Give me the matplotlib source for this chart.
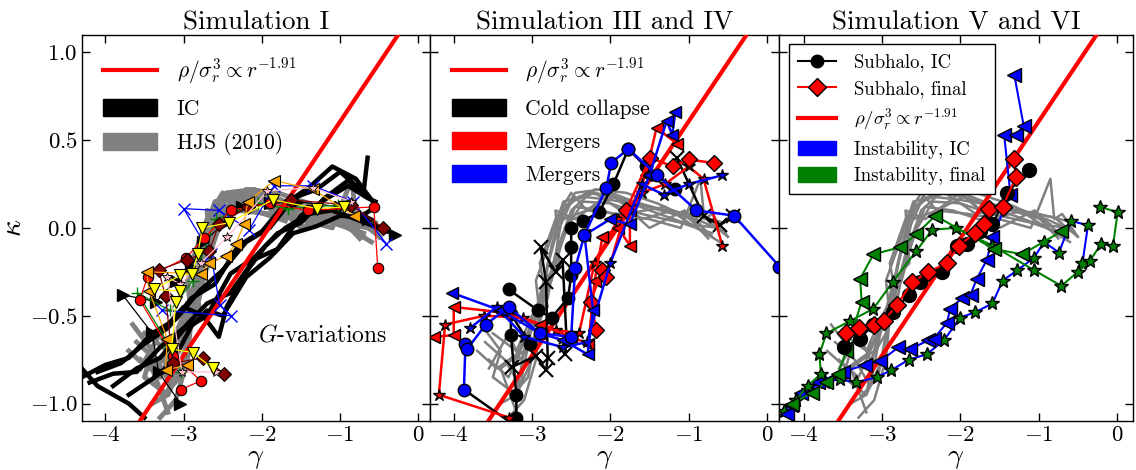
import matplotlib
matplotlib.use('Agg')
import matplotlib.pyplot as plt
from matplotlib.patches import Patch
from matplotlib.lines import Line2D
import numpy as np

plt.rcParams['font.family'] = ['cmr10', 'DejaVu Serif']
plt.rcParams['mathtext.fontset'] = 'cm'
plt.rcParams['axes.formatter.use_mathtext'] = True

# ---------------- data ----------------
PPSD_EXPONENT = 1.91  # rho/sigma_r^3 ~ r^-1.91  ->  kappa = 2/3 (gamma + 1.91)

# HJS (2010) grey bundle, shown in every panel
hjs_gamma = [
    [-3.55, -3.3, -3.05, -2.85, -2.75, -2.6, -2.3, -2.0, -1.6, -1.2, -0.9, -0.55],
    [-3.4, -3.2, -3.1, -2.9, -2.8, -2.65, -2.45, -2.1, -1.7, -1.3, -0.8, -0.5],
    [-3.6, -3.35, -3.15, -3.0, -2.85, -2.7, -2.5, -2.2, -1.9, -1.5, -1.0, -0.6],
    [-3.3, -3.1, -2.95, -2.9, -2.75, -2.55, -2.35, -2.0, -1.6, -1.1, -0.7],
    [-3.7, -3.45, -3.2, -3.0, -2.85, -2.7, -2.6, -2.4, -2.0, -1.5, -1.0, -0.55],
    [-3.25, -3.05, -2.95, -2.8, -2.7, -2.5, -2.2, -1.8, -1.4, -1.0, -0.75],
    [-2.6, -2.3, -1.9, -1.5, -1.1, -0.85, -0.8, -0.7, -0.5],
    [-3.5, -3.2, -3.0, -2.75, -2.6, -2.45, -2.1, -1.7],
    [-3.65, -3.4, -3.5, -3.2, -3.0, -2.9, -2.95, -2.75, -2.6, -2.2, -1.8, -1.3, -0.9, -0.6],
    [-3.2, -3.4, -3.1, -3.0, -2.8, -2.9, -2.7, -2.5, -2.3, -1.95, -1.6, -1.2, -0.85],
    [-3.55, -3.3, -3.15, -2.95, -2.85, -2.65, -2.7, -2.45, -2.0, -1.5, -1.05, -0.7],
]
hjs_kappa = [
    [-0.75, -0.85, -0.6, -0.35, -0.1, 0.12, 0.2, 0.18, 0.13, 0.08, 0.05, -0.02],
    [-1.0, -0.95, -0.7, -0.45, -0.2, 0.05, 0.2, 0.22, 0.15, 0.1, 0.06, -0.05],
    [-0.65, -0.75, -0.9, -0.55, -0.3, -0.05, 0.15, 0.2, 0.17, 0.1, 0.02, 0.0],
    [-1.08, -0.98, -0.75, -0.5, -0.25, 0.0, 0.15, 0.14, 0.08, 0.03, -0.03],
    [-0.7, -0.8, -0.72, -0.55, -0.4, -0.15, 0.1, 0.18, 0.16, 0.12, 0.08, 0.03],
    [-0.95, -0.85, -0.6, -0.4, -0.15, 0.1, 0.22, 0.2, 0.14, 0.06, -0.06],
    [0.05, 0.1, 0.08, 0.05, 0.0, 0.28, 0.05, 0.08, -0.05],
    [-0.6, -0.7, -0.5, -0.3, -0.05, 0.12, 0.1, 0.04],
    [-0.55, -0.7, -0.85, -0.95, -0.75, -0.5, -0.3, -0.05, 0.15, 0.2, 0.08, 0.12, 0.0, -0.08],
    [-1.05, -0.8, -0.7, -0.5, -0.45, -0.2, 0.05, 0.2, 0.1, 0.18, 0.05, 0.1, 0.02],
    [-0.8, -0.6, -0.75, -0.6, -0.3, -0.2, 0.1, 0.05, 0.2, 0.0, 0.1, -0.05],
]

# Simulation I: initial conditions (thick black)
ic_gamma = [
    [-4.3, -4.0, -3.7, -3.4, -3.1, -2.8, -2.5, -2.2, -1.9, -1.6, -1.3, -1.0, -0.7],
    [-4.1, -3.8, -3.5, -3.2, -2.9, -2.6, -2.3, -2.0, -1.7, -1.4, -1.1, -0.8, -0.6],
    [-4.2, -3.9, -3.6, -3.3, -3.0, -2.7, -2.4, -2.1, -1.8, -1.5, -1.2, -0.9, -0.65, -0.55],
    [-3.9, -3.6, -3.3, -3.0, -2.7, -2.4, -2.1, -1.8, -1.5, -1.2, -0.9, -0.7, -0.65],
    [-3.7, -3.4, -3.15, -2.9, -2.7, -2.5, -2.2, -1.9, -1.6, -1.3, -1.0, -0.75, -0.55],
    [-3.5, -3.2, -3.0, -2.75, -2.55, -2.45, -2.2, -1.95, -1.7, -1.4, -1.1, -0.8, -0.4],
    [-4.3, -4.1, -3.9, -3.7, -3.5],
]
ic_kappa = [
    [-0.85, -0.78, -0.74, -0.6, -0.52, -0.36, -0.24, -0.08, 0.0, 0.17, 0.22, 0.32, 0.2],
    [-0.82, -0.77, -0.66, -0.57, -0.4, -0.32, -0.1, -0.02, 0.14, 0.23, 0.35, 0.28, 0.16],
    [-0.88, -0.83, -0.82, -0.68, -0.57, -0.43, -0.37, -0.18, -0.12, 0.07, 0.16, 0.24, 0.17, 0.15],
    [-0.9, -0.8, -0.74, -0.58, -0.5, -0.26, -0.17, -0.03, 0.03, 0.17, 0.27, 0.21, 0.4],
    [-0.95, -0.86, -0.77, -0.56, -0.47, -0.5, -0.28, -0.17, -0.03, 0.01, 0.07, 0.06, 0.12],
    [-0.65, -0.55, -0.45, -0.5, -0.62, -0.45, -0.25, -0.1, 0.0, 0.08, 0.1, 0.05, -0.02],
    [-0.8, -0.9, -0.95, -1.0, -1.08],
]

# Simulation I: G-variations
gv_black_g = [-3.04, -3.32, -3.4, -3.78, -3.35, -3.1, -2.9, -2.75, -2.5, -2.25, -1.9, -1.55, -1.0, -0.65, -0.3]
gv_black_k = [-1.0, -0.82, -0.6, -0.38, -0.42, -0.3, -0.22, -0.08, 0.02, 0.12, 0.14, 0.15, 0.12, 0.05, -0.04]
gv_red_g = [-3.03, -2.78, -3.13, -3.56, -3.46, -2.97, -2.74, -2.4, -1.9, -1.41, -0.57, -0.52]
gv_red_k = [-0.92, -0.87, -0.73, -0.41, -0.28, -0.17, -0.06, 0.1, 0.14, 0.1, 0.12, -0.23]
gv_maroon_g = [-2.48, -2.75, -3.14, -3.23, -3.32, -2.95, -2.67, -2.55, -2.18, -1.63, -0.86, -0.45]
gv_maroon_k = [-0.83, -0.74, -0.77, -0.39, -0.24, -0.18, -0.13, 0.02, 0.12, 0.16, 0.13, 0.0]
gv_orange_g = [-2.95, -3.23, -3.21, -3.44, -3.47, -2.78, -2.67, -2.46, -2.33, -2.23, -2.18, -1.84, -1.35, -0.82]
gv_orange_k = [-0.78, -0.81, -0.63, -0.36, -0.25, -0.26, -0.2, -0.16, -0.09, 0.02, 0.15, 0.27, 0.22, 0.07]
gv_yellow_g = [-2.63, -2.88, -3.15, -3.10, -3.04, -3.38, -3.04, -2.89, -2.82, -2.76, -2.42, -1.86, -1.29, -0.95]
gv_yellow_k = [-0.8, -0.71, -0.69, -0.42, -0.36, -0.35, -0.27, -0.26, -0.15, 0.0, 0.03, 0.16, 0.11, 0.12]
gv_pink_g = [-2.59, -3.02, -3.21, -3.04, -2.78, -2.44, -1.93, -1.35, -0.86]
gv_pink_k = [-0.82, -0.82, -0.28, -0.32, -0.2, -0.05, 0.21, 0.23, 0.15]
gv_green_g = [-3.03, -3.18, -3.59, -3.17, -2.88, -2.59, -2.05, -1.67, -1.03]
gv_green_k = [-0.82, -0.67, -0.37, -0.47, -0.3, 0.05, 0.14, 0.11, 0.13]
gv_blue_g = [-3.27, -2.39, -2.54, -2.65, -3.0, -2.55, -2.16, -1.84, -1.35, -0.84, -0.41]
gv_blue_k = [-0.47, -0.5, -0.44, -0.15, 0.11, 0.1, -0.01, 0.24, 0.24, 0.15, -0.09]

# Simulation III and IV
cc_circ1_g = [-3.20, -3.20, -3.27, -3.27, -3.03]
cc_circ1_k = [-1.08, -0.95, -0.61, -0.49, -0.66]
cc_circ2_g = [-3.30, -2.92, -2.75, -2.54, -2.50, -2.50, -2.50, -2.35, -2.14, -1.96, -1.77, -1.55, -1.17]
cc_circ2_k = [-0.35, -0.47, -0.51, -0.40, -0.27, -0.11, 0.0, 0.04, 0.09, 0.25, 0.45, 0.35, 0.22]
cc_x1_g = [-3.25, -2.95, -2.82, -2.80, -2.82, -2.89, -2.70, -2.61, -2.56, -2.58]
cc_x1_k = [-0.79, -0.73, -0.81, -0.74, -0.31, -0.11, -0.25, -0.18, -0.62, -0.72]
cc_x2_g = [-3.87, -3.3, -3.25]
cc_x2_k = [-0.92, -1.1, -1.15]
cc_x3_g = [-1.15, -0.81, -0.60, -0.43]
cc_x3_k = [0.40, 0.07, 0.015, 0.07]
mr_star_g = [-3.29, -4.19, -4.11, -3.61, -3.12, -2.7, -2.4, -2.2, -1.9, -1.6, -1.3, -1.0, -0.81, -0.57]
mr_star_k = [-1.08, -0.95, -0.55, -0.50, -0.51, -0.58, -0.6, -0.2, 0.05, 0.2, 0.25, 0.35, 0.28, -0.10]
mr_tri_g = [-4.25, -4.0, -4.0, -3.4, -2.9, -2.5, -2.28, -2.2, -2.1, -1.9, -1.75, -1.75, -1.55, -1.41, -1.15]
mr_tri_k = [-0.62, -0.61, -0.45, -0.48, -0.55, -0.62, -0.66, -0.3, -0.05, 0.0, -0.10, 0.10, 0.3, 0.57, 0.48]
mr_dia_g = [-2.18, -2.25, -2.11, -2.05, -1.8, -1.49, -1.2, -1.0, -0.68]
mr_dia_k = [-0.58, -0.42, -0.24, -0.28, 0.1, 0.40, 0.35, 0.39, 0.37]
mb_tri_g = [-4.02, -3.40, -2.9, -2.6, -2.29, -2.22, -2.33, -2.0, -1.75, -1.5, -1.28, -1.21, -1.17]
mb_tri_k = [-0.37, -0.47, -0.6, -0.64, -0.72, -0.47, -0.04, 0.05, 0.02, 0.3, 0.61, 0.53, 0.66]
mb_circ_g = [-3.87, -3.85, -3.83, -3.59, -3.3, -2.9, -2.5, -2.45, -2.33, -2.05, -1.99, -1.77, -1.4, -0.9, -0.42, 0.16]
mb_circ_k = [-0.92, -0.66, -0.69, -0.55, -0.45, -0.6, -0.62, -0.23, -0.04, 0.23, 0.37, 0.45, 0.3, 0.1, 0.07, -0.22]
mb_star_g = [-3.79, -3.45, -3.1, -2.6, -2.3, -2.0, -1.6, -1.32, -1.0, -0.57]
mb_star_k = [-0.57, -0.45, -0.62, -0.68, -0.65, -0.2, 0.25, 0.19, 0.25, 0.30]

# Simulation V and VI
sub_ic_g = [-3.49, -3.28, -3.11, -2.86, -2.66, -2.51, -2.23, -2.04, -1.91, -1.75, -1.59, -1.4, -1.12]
sub_ic_k = [-0.68, -0.63, -0.55, -0.48, -0.38, -0.31, -0.25, -0.10, -0.09, -0.02, 0.02, 0.2, 0.33]
sub_fin_g = [-3.46, -3.3, -3.1, -2.98, -2.81, -2.62, -2.41, -2.17, -2.02, -1.81, -1.7, -1.64, -1.46, -1.29, -1.31]
sub_fin_k = [-0.60, -0.57, -0.55, -0.53, -0.44, -0.31, -0.25, -0.20, -0.10, -0.03, 0.02, 0.11, 0.12, 0.29, 0.39]
ins_ic_tri_g = [-4.21, -4.16, -4.03, -3.82, -3.50, -3.22, -3.03, -2.79, -2.64, -2.41, -2.34, -2.17, -2.13,
                -1.98, -1.87, -1.79, -1.66, -1.59, -1.36, -1.44, -1.29, -1.19, -1.31]
ins_ic_tri_k = [-1.06, -1.01, -0.94, -0.88, -0.82, -0.78, -0.76, -0.68, -0.69, -0.64, -0.63, -0.54, -0.46,
                -0.40, -0.38, -0.29, -0.18, -0.05, 0.19, 0.53, 0.53, 0.58, 0.87]
ins_ic_star_g = [-4.25, -4.1, -3.95, -3.73, -3.54, -3.33, -3.07, -2.88, -2.66, -2.43, -2.21, -2.0, -1.81,
                 -1.59, -1.46, -1.27, -1.06, -0.93, -0.74, -0.585, -0.37, -0.44]
ins_ic_star_k = [-1.04, -0.98, -0.92, -0.88, -0.86, -0.88, -0.85, -0.81, -0.75, -0.72, -0.64, -0.51, -0.48,
                 -0.43, -0.30, -0.24, -0.17, -0.08, -0.14, 0.04, 0.015, -0.20]
ins_fin_tri_g = [-4.15, -3.9, -3.72, -3.56, -3.46, -3.26, -3.28, -3.11, -2.77, -2.56, -2.32, -1.57, -1.21, -0.71]
ins_fin_tri_k = [-1.0, -0.94, -0.88, -0.83, -0.70, -0.42, -0.29, -0.15, -0.11, -0.035, 0.07, -0.12, -0.15, -0.02]
ins_fin_star_g = [-4.1, -3.95, -3.78, -3.80, -3.71, -3.41, -3.11, -2.86, -2.56, -2.36, -2.06, -1.59, -1.06,
                  -0.71, -0.50, -0.35, -0.20, -0.05, 0.01, -0.22]
ins_fin_star_k = [-0.98, -0.9, -0.83, -0.72, -0.60, -0.53, -0.46, -0.305, -0.13, -0.01, 0.0, -0.10, -0.24,
                  -0.33, -0.25, -0.19, -0.09, -0.10, 0.09, 0.12]

titles = ['Simulation I', 'Simulation III and IV', 'Simulation V and VI']
xlims = [(-4.3, 0.15), (-4.3, 0.16), (-4.31, 0.2)]
ylim = (-1.1, 1.1)
ppsd_label = r'$\rho/\sigma_r^3 \propto r^{-1.91}$'

# ---------------- figure ----------------
fig, axes = plt.subplots(1, 3, figsize=(11.36, 4.70), dpi=100, sharey=True,
                         gridspec_kw=dict(width_ratios=[b - a for a, b in xlims], wspace=0))
fig.subplots_adjust(left=0.072, right=0.997, top=0.926, bottom=0.104)

line_g = np.array([-5.0, 1.0])
line_k = 2.0 / 3.0 * (line_g + PPSD_EXPONENT)


def series(ax, g, k, marker, lc, fc, ms, lw, mew=1.0, **kw):
    ax.plot(g, k, marker=marker, color=lc, mfc=fc, mec='k' if fc is not None else lc,
            ms=ms, lw=lw, mew=mew, **kw)


for i, ax in enumerate(axes):
    grey_lw = 3.5 if i == 0 else 1.8
    for g, k in zip(hjs_gamma, hjs_kappa):
        ax.plot(g, k, color='grey', lw=grey_lw, zorder=1)

# panel 1
ax = axes[0]
for g, k in zip(ic_gamma, ic_kappa):
    ax.plot(g, k, color='k', lw=3.2, zorder=2)
ax.plot(line_g, line_k, color='r', lw=3, zorder=3)
series(ax, gv_black_g, gv_black_k, '>', 'k', 'k', 8, 0.9, zorder=4)
series(ax, gv_blue_g, gv_blue_k, 'x', 'b', None, 8, 0.9, zorder=4)
series(ax, gv_green_g, gv_green_k, '+', 'g', None, 8, 0.9, zorder=4)
series(ax, gv_red_g, gv_red_k, 'o', 'r', 'r', 7.5, 0.9, mew=0.8, zorder=4)
series(ax, gv_maroon_g, gv_maroon_k, 'D', '#800000', '#800000', 7, 0.9, mew=0.8, zorder=4)
series(ax, gv_orange_g, gv_orange_k, '<', 'orange', 'orange', 8, 0.9, mew=0.8, zorder=4)
series(ax, gv_pink_g, gv_pink_k, '*', 'pink', 'pink', 7, 0.9, mew=0.6, zorder=4)
series(ax, gv_yellow_g, gv_yellow_k, 'v', 'yellow', 'yellow', 8, 0.9, mew=0.8, zorder=4)
ax.text(-1.22, -0.61, r'$G$-variations', fontsize=17, ha='center', va='center')
h1 = [Line2D([], [], color='r', lw=3),
      Patch(fc='k', ec='k'),
      Patch(fc='grey', ec='grey')]
ax.legend(h1, [ppsd_label, 'IC', 'HJS (2010)'], loc='upper left', frameon=False,
          fontsize=15.5, handlelength=2.5, handleheight=0.85, labelspacing=0.6,
          handletextpad=0.9, borderaxespad=0.6)

# panel 2
ax = axes[1]
ax.plot(line_g, line_k, color='r', lw=3, zorder=3)
series(ax, cc_x2_g, cc_x2_k, 'None', 'k', 'k', 9, 1.8, zorder=4)
series(ax, cc_x1_g, cc_x1_k, 'x', 'k', None, 10, 1.8, mew=1.5, zorder=4)
series(ax, cc_x3_g, cc_x3_k, 'x', 'k', None, 10, 1.8, mew=1.5, zorder=4)
series(ax, cc_circ1_g, cc_circ1_k, 'o', 'k', 'k', 9, 1.8, zorder=4)
series(ax, cc_circ2_g, cc_circ2_k, 'o', 'k', 'k', 9, 1.8, zorder=4)
series(ax, mr_star_g, mr_star_k, '*', 'r', 'r', 9, 1.8, zorder=5)
series(ax, mr_tri_g, mr_tri_k, '<', 'r', 'r', 9, 1.8, zorder=5)
series(ax, mr_dia_g, mr_dia_k, 'D', 'r', 'r', 8, 1.8, zorder=5)
series(ax, mb_star_g, mb_star_k, '*', 'b', 'b', 9, 1.8, zorder=5)
series(ax, mb_tri_g, mb_tri_k, '<', 'b', 'b', 9, 1.8, zorder=5)
series(ax, mb_circ_g, mb_circ_k, 'o', 'b', 'b', 9, 1.8, zorder=5, clip_on=False)
h2 = [Line2D([], [], color='r', lw=3),
      Patch(fc='k', ec='k'), Patch(fc='r', ec='r'), Patch(fc='b', ec='b')]
ax.legend(h2, [ppsd_label, 'Cold collapse', 'Mergers', 'Mergers'], loc='upper left',
          frameon=False, fontsize=15.5, handlelength=2.5, handleheight=0.85,
          labelspacing=0.6, handletextpad=0.9, borderaxespad=0.6)

# panel 3
ax = axes[2]
ax.plot(line_g, line_k, color='r', lw=3, zorder=3)
series(ax, ins_ic_star_g, ins_ic_star_k, '*', 'b', 'g', 10, 1.5, zorder=4)
series(ax, ins_ic_tri_g, ins_ic_tri_k, '<', 'b', 'b', 10, 1.5, zorder=4)
series(ax, ins_fin_star_g, ins_fin_star_k, '*', 'g', 'g', 10, 1.5, zorder=4)
series(ax, ins_fin_tri_g, ins_fin_tri_k, '<', 'g', 'g', 10, 1.5, zorder=4)
series(ax, sub_ic_g, sub_ic_k, 'o', 'k', 'k', 10, 1.5, zorder=5)
series(ax, sub_fin_g, sub_fin_k, 'D', 'r', 'r', 9, 1.5, zorder=6)
h3 = [Line2D([], [], color='k', marker='o', ms=9, lw=1.5),
      Line2D([], [], color='r', marker='D', mfc='r', mec='k', ms=9, lw=1.5),
      Line2D([], [], color='r', lw=3),
      Patch(fc='b', ec='b'), Patch(fc='g', ec='g')]
leg = ax.legend(h3, ['Subhalo, IC', 'Subhalo, final', ppsd_label, 'Instability, IC',
                     'Instability, final'], loc='upper left', fontsize=13.5,
                handlelength=2.0, handleheight=0.8, labelspacing=0.45, handletextpad=1.0,
                borderaxespad=0.5, borderpad=0.5, fancybox=False, framealpha=1, edgecolor='k')
leg.get_frame().set_linewidth(1.0)

for i, ax in enumerate(axes):
    ax.set_xlim(*xlims[i])
    ax.set_ylim(*ylim)
    ax.set_xticks([-4, -3, -2, -1, 0])
    ax.set_yticks([-1.0, -0.5, 0.0, 0.5, 1.0])
    ax.tick_params(direction='in', top=True, right=True, length=6, width=1,
                   labelsize=16.5, pad=3)
    ax.set_title(titles[i], fontsize=19.5, pad=4)
    ax.set_xlabel(r'$\gamma$', fontsize=20, labelpad=0)
    for s in ax.spines.values():
        s.set_linewidth(1.0)
axes[0].set_ylabel(r'$\kappa$', fontsize=21, labelpad=2)
for ax in axes[1:]:
    ax.tick_params(labelleft=False)

fig.savefig('out.png', dpi=100)
